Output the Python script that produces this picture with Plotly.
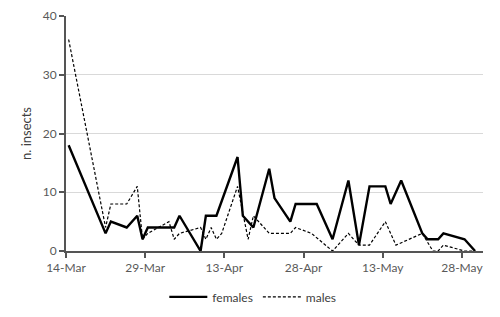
import pandas as pd
import plotly.graph_objects as go

female_dates = ["03-14", "03-21", "03-22", "03-25", "03-27", "03-28", "03-29", "04-03",
                "04-04", "04-08", "04-09", "04-11", "04-15", "04-16", "04-18", "04-21",
                "04-22", "04-25", "04-26", "04-30", "05-03", "05-06", "05-08", "05-10",
                "05-13", "05-14", "05-16", "05-20", "05-21", "05-23", "05-24", "05-28",
                "05-30"]
female_values = [18, 3, 5, 4, 6, 2, 4, 4, 6, 0, 6, 6, 16, 6, 4, 14, 9, 5, 8, 8, 2, 12,
                 1, 11, 11, 8, 12, 3, 2, 2, 3, 2, 0]

male_dates = ["03-14", "03-21", "03-22", "03-25", "03-27", "03-28", "03-29", "04-02",
              "04-03", "04-04", "04-08", "04-09", "04-10", "04-11", "04-12", "04-15",
              "04-17", "04-18", "04-21", "04-25", "04-26", "04-29", "05-03", "05-06",
              "05-08", "05-10", "05-13", "05-15", "05-20", "05-22", "05-23", "05-24",
              "05-28", "05-30"]
male_values = [36, 4, 8, 8, 11, 2, 3, 5, 2, 3, 4, 2, 4, 2, 3, 11, 2, 6, 3, 3, 4, 3, 0,
               3, 1, 1, 5, 1, 3, 0, 0, 1, 0, 0]

year = "2021"
y_ticks = [0, 10, 20, 30, 40]


def to_x(dates):
    # Excel-style "between tick marks": each day's point sits mid-day
    return pd.to_datetime([f"{year}-{d}" for d in dates]) + pd.Timedelta(hours=12)


fig = go.Figure()
fig.add_trace(go.Scatter(x=to_x(female_dates), y=female_values, mode="lines",
                         name="females", line=dict(color="black", width=2.4)))
fig.add_trace(go.Scatter(x=to_x(male_dates), y=male_values, mode="lines",
                         name="males", line=dict(color="black", width=1.2, dash="3px,2px")))

font = "Lato, 'Open Sans', sans-serif"
fig.update_layout(
    width=500, height=317,
    margin=dict(l=66, r=17, t=16, b=66, autoexpand=False),
    paper_bgcolor="white", plot_bgcolor="white",
    font=dict(family=font, size=12, color="#595959"),
    showlegend=True,
    legend=dict(orientation="h", x=0.448, xanchor="center", y=-0.195, yanchor="middle",
                font=dict(size=12, color="#404040"), itemwidth=38, tracegroupgap=0),
    xaxis=dict(
        type="date", automargin=False,
        range=[f"{year}-03-14", f"{year}-06-01"],
        tick0=f"{year}-03-14", dtick=15 * 86400000,
        tickformat="%-d-%b",
        showgrid=False, zeroline=False,
        showline=True, linecolor="#555555", linewidth=2,
        ticks="outside", ticklen=5, tickcolor="#555555", tickwidth=1.5,
        tickfont=dict(size=12, color="#595959"),
    ),
    yaxis=dict(
        range=[0, 40], tickvals=y_ticks, automargin=False,
        showgrid=True, gridcolor="#d9d9d9", gridwidth=1,
        zeroline=False,
        showline=True, linecolor="#555555", linewidth=2,
        ticks="outside", ticklen=5, tickcolor="#555555", tickwidth=1.5,
        tickfont=dict(size=12, color="#595959"),
        title=dict(text="n. insects", font=dict(size=13, color="#404040"), standoff=8),
    ),
)

fig.write_html("out.html")
